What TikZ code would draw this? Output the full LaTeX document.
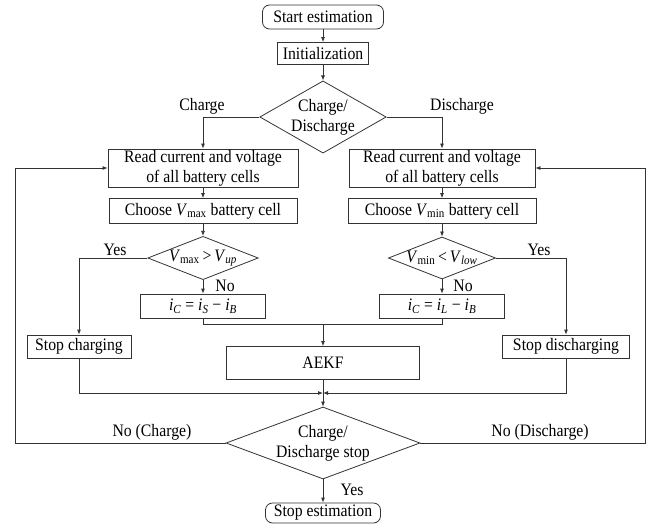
\documentclass[tikz,border=0pt]{standalone}
\usepackage{fontspec}
\setmainfont[FakeStretch=0.9]{Liberation Serif}
\usepackage{tikz}
\usetikzlibrary{arrows.meta,positioning,shapes.geometric}
\definecolor{lineink}{HTML}{333333}
\newcommand{\symb}[2]{\textit{#1}\textsubscript{#2}}
\tikzset{
  procbox/.style={
    rectangle, draw=lineink, thick, fill=white,
    align=center, inner sep=0pt, font=\fontsize{17.5}{20}\selectfont
  },
  termbox/.style={procbox, rounded corners=7pt},
  decision/.style={
    diamond, draw=lineink, thick, fill=white,
    align=center, inner sep=0pt, font=\fontsize{17.5}{20}\selectfont
  },
  tag/.style={font=\fontsize{17.5}{20}\selectfont, inner sep=0pt},
  flowline/.style={thick, color=lineink},
  flowarrow/.style={-{Latex[length=5pt,width=4pt]}, thick, color=lineink},
}

\begin{document}
\begin{tikzpicture}[x=1pt, y=-1pt]
  \useasboundingbox (0,0) rectangle (658,525);

  \node[termbox, minimum width=121, minimum height=24] (start) at (323,17) {Start estimation};
  \node[procbox, minimum width=91, minimum height=22] (init) at (323,53.5) {Initialization};
  \node[decision, aspect=1.75, minimum width=124, minimum height=71] (mode) at (323,117) {Charge/\\Discharge};

  \node[procbox, minimum width=190, minimum height=38] (readC) at (203,168) {Read current and voltage\\of all battery cells};
  \node[procbox, minimum width=186, minimum height=38] (readD) at (442,168) {Read current and voltage\\of all battery cells};
  \node[procbox, minimum width=188, minimum height=25] (pickC) at (203,211) {Choose \symb{V}{max} battery cell};
  \node[procbox, minimum width=188, minimum height=25] (pickD) at (442,211) {Choose \symb{V}{min} battery cell};
  \node[decision, aspect=2.55, minimum width=107, minimum height=42] (limC) at (203,258) {\symb{V}{max}\,{>}\,\symb{V}{\textit{up}}};
  \node[decision, aspect=2.55, minimum width=107, minimum height=42] (limD) at (442,258) {\symb{V}{min}\,{<}\,\symb{V}{\textit{low}}};
  \node[procbox, minimum width=125, minimum height=24] (curC) at (203,306) {\symb{i}{\textit{C}} = \symb{i}{\textit{S}} − \symb{i}{\textit{B}}};
  \node[procbox, minimum width=125, minimum height=24] (curD) at (442,306) {\symb{i}{\textit{C}} = \symb{i}{\textit{L}} − \symb{i}{\textit{B}}};

  \node[procbox, minimum width=104, minimum height=23] (stopC) at (79,346.5) {Stop charging};
  \node[procbox, minimum width=127, minimum height=23] (stopD) at (566,346.5) {Stop discharging};
  \node[procbox, minimum width=193, minimum height=33] (aekf) at (323,363) {AEKF};

  \node[decision, aspect=2.7, minimum width=194, minimum height=72] (done) at (323,443) {Charge/\\Discharge stop};
  \node[termbox, minimum width=115, minimum height=20] (finish) at (323,513) {Stop estimation};

  \coordinate (joinA) at (323,324);
  \coordinate (joinB) at (323,393);
  \coordinate (loopC) at (15,443);
  \coordinate (loopD) at (645,443);

  % labels
  \node[tag] (lblC) at (202,106) {Charge};
  \node[tag] (lblD) at (462,106) {Discharge};
  \node[tag] (yesC) at (115,250) {Yes};
  \node[tag] (yesD) at (539,250) {Yes};
  \node[tag] (noC) at (225,286) {No};
  \node[tag] (noD) at (463,286) {No};
  \node[tag] (backC) at (152,432) {No (Charge)};
  \node[tag] (backD) at (540,432) {No (Discharge)};
  \node[tag] (yesEnd) at (352,490) {Yes};

  \foreach \a/\b in {start/init,init/mode,readC/pickC,readD/pickD,pickC/limC,pickD/limD,limC/curC,limD/curD,aekf/done,done/finish}
    \draw[flowarrow] (\a) -- (\b);

  \draw[flowarrow] (mode.west) -| (readC);
  \draw[flowarrow] (mode.east) -| (readD);
  \draw[flowarrow] (limC.west) -| (stopC);
  \draw[flowarrow] (limD.east) -| (stopD);

  \draw[flowline] (curC) |- (joinA);
  \draw[flowline] (curD) |- (joinA);
  \draw[flowarrow] (joinA) -- (aekf);

  \draw[flowarrow] (stopC) |- (joinB);
  \draw[flowarrow] (stopD) |- (joinB);

  \draw[flowarrow] (done.west) -- (loopC) |- (readC.west);
  \draw[flowarrow] (done.east) -- (loopD) |- (readD.east);
\end{tikzpicture}
\end{document}
